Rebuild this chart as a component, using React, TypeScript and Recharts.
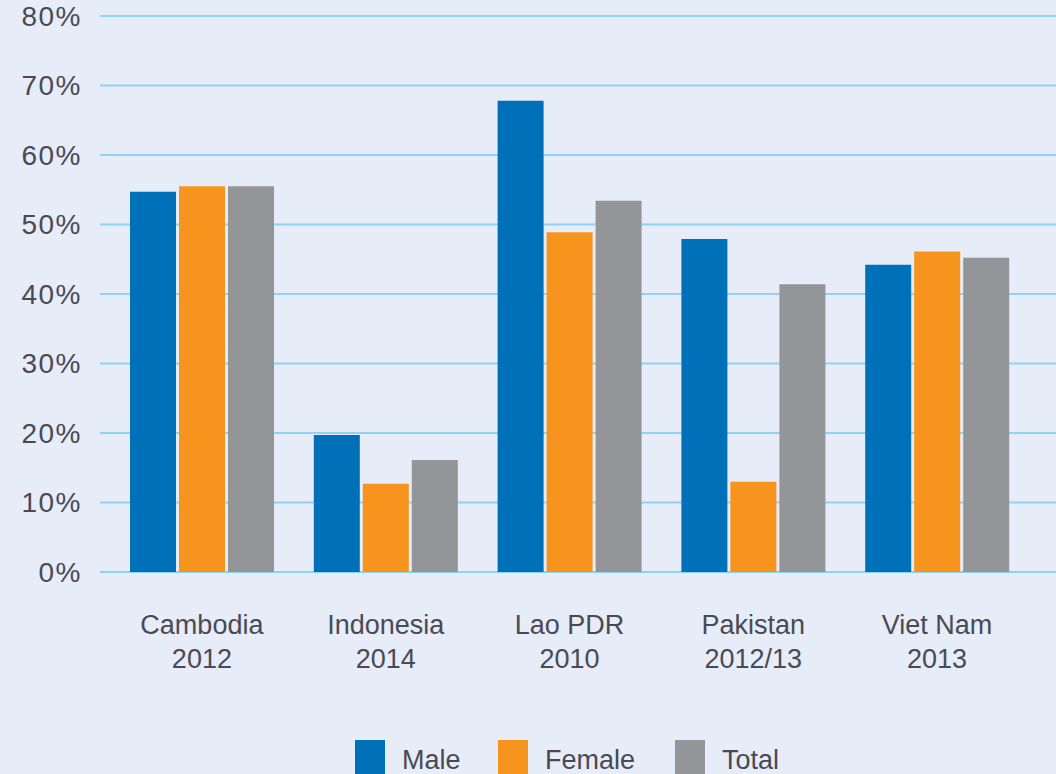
import { BarChart, Bar, XAxis, YAxis, CartesianGrid, Legend } from "recharts"

// survey / year labels
const countries = ["Cambodia", "Indonesia", "Lao PDR", "Pakistan", "Viet Nam"]
const years = ["2012", "2014", "2010", "2012/13", "2013"]

// percentages
const male = [54.7, 19.7, 67.8, 47.9, 44.2]
const female = [55.5, 12.7, 48.9, 13.0, 46.1]
const total = [55.5, 16.1, 53.4, 41.4, 45.2]

const yTicks = [0, 10, 20, 30, 40, 50, 60, 70, 80]

const colors = { male: "#0070b8", female: "#f7941d", total: "#939598" }
const textColor = "#4a4a54"
const font = "'Liberation Sans', Arial, sans-serif"

const data = countries.map((c, i) => ({
  country: c,
  year: years[i],
  male: male[i],
  female: female[i],
  total: total[i],
}))

function CountryTick(props: any) {
  const { x, y, payload, index } = props
  return (
    <text x={x} y={y} textAnchor="middle" fill={textColor} fontSize={27} fontFamily={font}>
      <tspan x={x} dy={62}>{payload.value}</tspan>
      <tspan x={x} dy={34}>{years[index]}</tspan>
    </text>
  )
}

const legendItems = [
  { key: "male", label: "Male", left: 355 },
  { key: "female", label: "Female", left: 498 },
  { key: "total", label: "Total", left: 675 },
]

function ChartLegend() {
  return (
    <div style={{ position: "relative", height: 34, width: 1056 }}>
      {legendItems.map((it) => (
        <div key={it.key} style={{ position: "absolute", left: it.left, top: 0, height: 34, display: "flex", alignItems: "flex-end" }}>
          <div style={{ width: 30, height: 34, background: (colors as any)[it.key] }} />
          <span style={{ marginLeft: 17, fontSize: 27, fontFamily: font, color: textColor, lineHeight: "27px", height: 27 }}>
            {it.label}
          </span>
        </div>
      ))}
    </div>
  )
}

export default function App() {
  return (
    <div style={{ position: "absolute", left: 0, top: 0, width: 1056, height: 774, background: "#e6ecf8", overflow: "hidden" }}>
      <BarChart
        width={1056}
        height={774}
        data={data}
        margin={{ top: 16, right: 0, left: 0, bottom: 0 }}
        barCategoryGap={20}
        barGap={3}
      >
        <CartesianGrid vertical={false} stroke="#8dd3f5" strokeWidth={2} />
        <XAxis
          dataKey="country"
          axisLine={false}
          tickLine={false}
          tickSize={0}
          tickMargin={0}
          height={168}
          interval={0}
          padding={{ left: 10, right: 27 }}
          tick={<CountryTick />}
        />
        <YAxis
          domain={[0, 80]}
          ticks={yTicks}
          width={100}
          axisLine={false}
          tickLine={false}
          tickSize={6}
          tickMargin={12}
          tickFormatter={(v) => `${v}%`}
          tick={{ fill: textColor, fontSize: 28, fontFamily: font, letterSpacing: 1.5 }}
        />
        <Legend verticalAlign="bottom" content={<ChartLegend />} />
        <Bar dataKey="male" name="Male" fill={colors.male} isAnimationActive={false} />
        <Bar dataKey="female" name="Female" fill={colors.female} isAnimationActive={false} />
        <Bar dataKey="total" name="Total" fill={colors.total} isAnimationActive={false} />
      </BarChart>
    </div>
  )
}
